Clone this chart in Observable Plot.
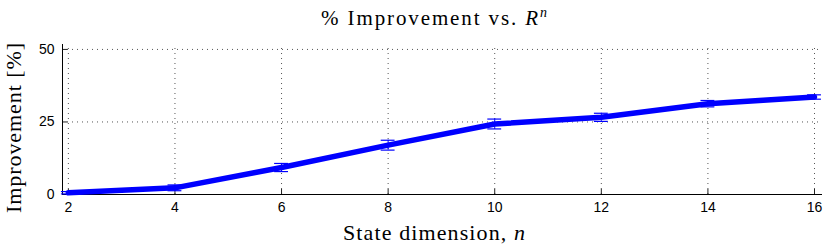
<!DOCTYPE html>
<html>
<head>
<meta charset="utf-8">
<script src="https://cdn.jsdelivr.net/npm/d3@7"></script>
<script src="https://cdn.jsdelivr.net/npm/@observablehq/plot@0.6"></script>
<style>
  html, body { margin: 0; padding: 0; background: #fff; }
</style>
</head>
<body>
<div id="chart"></div>
<script>
// State dimension n
const dims = [2, 4, 6, 8, 10, 12, 14, 16];
// Mean % improvement
const improvement = [0.6, 2.3, 9.3, 17.0, 24.3, 26.6, 31.3, 33.6];
// Error (half-width of error bar)
const errHalf = [0.4, 1.0, 1.4, 1.7, 1.7, 1.4, 1.1, 0.75];
const xTicks = [2, 4, 6, 8, 10, 12, 14, 16];
const yTicks = [0, 25, 50];

const data = dims.map((n, i) => ({n, v: improvement[i], lo: improvement[i] - errHalf[i], hi: improvement[i] + errHalf[i]}));

const blue = "#0000ff";
const capHalf = 0.13;
const xMin = 1.89, xMax = 16.15, yMax = 51.7;

const plot = Plot.plot({
  width: 830,
  height: 249,
  marginLeft: 62,
  marginRight: 8,
  marginTop: 44,
  marginBottom: 55,
  style: {background: "#fff", fontFamily: "'Liberation Sans', Arial, sans-serif", fontSize: "14px", color: "#000"},
  x: {type: "linear", domain: [xMin, xMax]},
  y: {type: "linear", domain: [0, yMax]},
  marks: [
    // dotted grid
    Plot.ruleX(xTicks, {x: d => d, y1: 0, y2: yMax, stroke: "#555", strokeWidth: 1, strokeDasharray: "1,4"}),
    Plot.ruleY(yTicks.filter(d => d > 0), {y: d => d, x1: xMin, x2: xMax, stroke: "#555", strokeWidth: 1, strokeDasharray: "1,4"}),
    // inward tick marks
    Plot.ruleX(xTicks, {x: d => d, y1: 0, y2: 1.75, stroke: "#222", strokeWidth: 1}),
    Plot.ruleY(yTicks, {y: d => d, x1: xMin, x2: xMin + 0.1, stroke: "#222", strokeWidth: 1}),
    // axis lines
    Plot.ruleY([0], {x1: xMin, x2: xMax, stroke: "#000", strokeWidth: 1}),
    Plot.ruleX([xMin], {y1: 0, y2: yMax, stroke: "#000", strokeWidth: 1}),
    Plot.axisX({ticks: xTicks, tickSize: 0, tickPadding: 8, label: null, fontSize: 14}),
    Plot.axisY({ticks: yTicks, tickSize: 0, tickPadding: 8, label: null, fontSize: 14}),
    // main line
    Plot.line(data, {x: "n", y: "v", stroke: blue, strokeWidth: 5.5, strokeLinejoin: "round"}),
    // error bars
    Plot.ruleX(data, {x: "n", y1: "lo", y2: "hi", stroke: blue, strokeWidth: 1}),
    Plot.ruleY(data, {y: "lo", x1: d => d.n - capHalf, x2: d => d.n + capHalf, stroke: blue, strokeWidth: 1.2}),
    Plot.ruleY(data, {y: "hi", x1: d => d.n - capHalf, x2: d => d.n + capHalf, stroke: blue, strokeWidth: 1.2})
  ]
});

document.getElementById("chart").appendChild(plot);

const svg = d3.select(plot);
const serif = "'Liberation Serif', 'DejaVu Serif', serif";

// Title
const t = svg.append("text")
  .attr("x", 434).attr("y", 25)
  .attr("text-anchor", "middle")
  .attr("textLength", 226).attr("lengthAdjust", "spacing")
  .attr("font-family", serif).attr("font-size", 21).attr("fill", "#000");
t.append("tspan").text("% Improvement vs. ");
t.append("tspan").attr("font-style", "italic").text("R");
t.append("tspan").attr("font-style", "italic").attr("font-size", 14).attr("dy", -8).text("n");

// X label
const xl = svg.append("text")
  .attr("x", 434).attr("y", 240)
  .attr("text-anchor", "middle")
  .attr("textLength", 182).attr("lengthAdjust", "spacing")
  .attr("font-family", serif).attr("font-size", 22).attr("fill", "#000");
xl.append("tspan").text("State dimension, ");
xl.append("tspan").attr("font-style", "italic").text("n");

// Y label
svg.append("text")
  .attr("transform", "translate(21,128) rotate(-90)")
  .attr("text-anchor", "middle")
  .attr("textLength", 170).attr("lengthAdjust", "spacing")
  .attr("font-family", serif).attr("font-size", 22).attr("fill", "#000")
  .text("Improvement [%]");
</script>
</body>
</html>
